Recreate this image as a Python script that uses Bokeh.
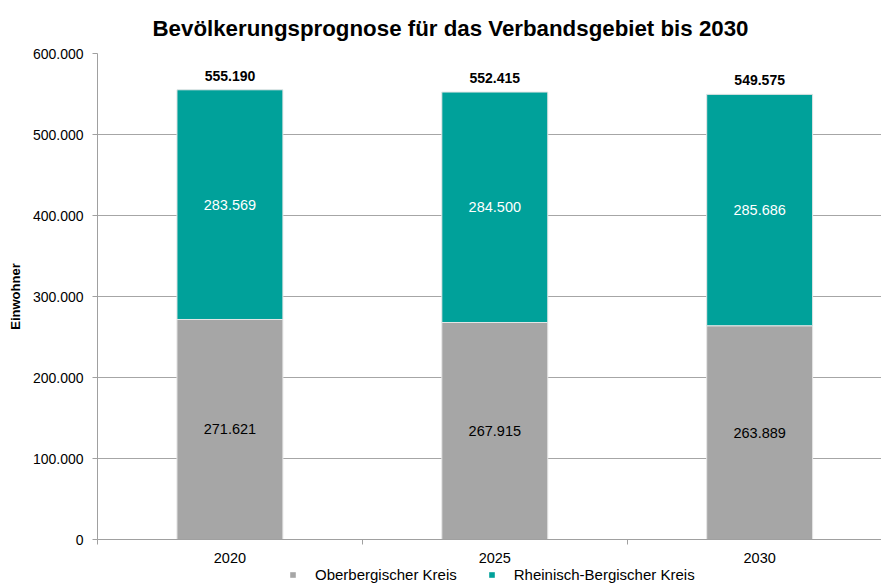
from bokeh.plotting import figure
from bokeh.layouts import column
from bokeh.models import ColumnDataSource, Range1d, FixedTicker, Legend, LegendItem, Title
from bokeh.core.properties import value
from bokeh.embed import file_html
from bokeh.resources import INLINE

years = ["2020", "2025", "2030"]
ober = [271621, 267915, 263889]
rhein = [283569, 284500, 285686]
series_names = ["Oberbergischer Kreis", "Rheinisch-Bergischer Kreis"]
y_ticks = [0, 100000, 200000, 300000, 400000, 500000, 600000]

GREY = "#A6A6A6"
TEAL = "#00A19A"
FONT = "Liberation Sans"
W = 881


def de(v):
    return f"{v:,}".replace(",", ".")


x = [i + 0.5 for i in range(len(years))]
totals = [a + b for a, b in zip(ober, rhein)]
src = ColumnDataSource(dict(
    x=x, ober=ober, rhein=rhein, total=totals,
    ober_mid=[a / 2 for a in ober],
    rhein_mid=[a + b / 2 for a, b in zip(ober, rhein)],
    ober_lbl=[de(v) for v in ober],
    rhein_lbl=[de(v) for v in rhein],
    total_lbl=[de(v) for v in totals],
))

p = figure(width=W, height=568, output_backend="svg", toolbar_location=None,
           x_range=Range1d(0, 2.96), y_range=Range1d(0, 600000),
           min_border_left=97, min_border_right=0, min_border_top=53, min_border_bottom=29)
p.title = Title(text="Bevölkerungsprognose für das Verbandsgebiet bis 2030", align="left",
                text_font=FONT, text_font_size="22.3px", text_font_style="bold",
                text_color="#000000", offset=55, standoff=25)
p.outline_line_color = None
p.background_fill_color = "white"
p.border_fill_color = "white"

r = p.vbar_stack(["ober", "rhein"], x="x", width=0.4, source=src,
                 color=[GREY, TEAL], line_color="#e6e6e6", line_width=1)

p.text(x="x", y="ober_mid", text="ober_lbl", source=src, text_align="center",
       text_baseline="middle", text_font=value(FONT), text_font_size="14.5px", text_color="#000000")
p.text(x="x", y="rhein_mid", text="rhein_lbl", source=src, text_align="center",
       text_baseline="middle", text_font=value(FONT), text_font_size="14.5px", text_color="#ffffff")
p.text(x="x", y="total", text="total_lbl", source=src, text_align="center",
       text_baseline="bottom", y_offset=-9, text_font=value(FONT), text_font_size="14px",
       text_font_style="bold", text_color="#000000")

# y axis
p.yaxis.ticker = FixedTicker(ticks=y_ticks)
p.yaxis.major_label_overrides = {t: de(t) for t in y_ticks}
p.yaxis.axis_label = "Einwohner"
p.yaxis.axis_label_text_font = FONT
p.yaxis.axis_label_text_font_size = "13px"
p.yaxis.axis_label_text_font_style = "bold"
p.yaxis.axis_label_text_color = "#000000"
p.yaxis.axis_label_standoff = 7
p.yaxis.major_label_text_font = FONT
p.yaxis.major_label_text_font_size = "14px"
p.yaxis.major_label_text_color = "#000000"
p.yaxis.axis_line_color = "#a0a0a0"
p.yaxis.major_tick_line_color = "#a0a0a0"
p.yaxis.major_tick_in = 0
p.yaxis.major_tick_out = 5
p.yaxis.minor_tick_line_color = None
p.yaxis.major_label_standoff = 9

# x axis
p.xaxis.ticker = FixedTicker(ticks=x, minor_ticks=list(range(len(years) + 1)))
p.xaxis.major_label_overrides = {xx: y for xx, y in zip(x, years)}
p.xaxis.major_tick_line_color = None
p.xaxis.minor_tick_line_color = "#a0a0a0"
p.xaxis.minor_tick_in = 0
p.xaxis.minor_tick_out = 5
p.xaxis.axis_line_color = "#a0a0a0"
p.xaxis.major_label_text_font = FONT
p.xaxis.major_label_text_font_size = "14.5px"
p.xaxis.major_label_text_color = "#000000"
p.xaxis.major_label_standoff = 7

p.xgrid.grid_line_color = None
p.ygrid.grid_line_color = "#a6a6a6"
p.ygrid.ticker = FixedTicker(ticks=y_ticks)

# legend strip: zero-height bars (outside the visible range) only supply the swatches
p2 = figure(width=W, height=15, output_backend="svg", toolbar_location=None,
            x_range=Range1d(0, 2.96), y_range=Range1d(1, 2),
            x_axis_type=None, y_axis_type=None,
            min_border_left=0, min_border_right=0, min_border_top=0, min_border_bottom=0)
p2.outline_line_color = None
p2.grid.grid_line_color = None
sw1 = p2.vbar(x="x", top=0, bottom=0, width=0.4, source=src, fill_color=GREY, line_color=None)
sw2 = p2.vbar(x="x", top=0, bottom=0, width=0.4, source=src, fill_color=TEAL, line_color=None)
legend = Legend(items=[LegendItem(label=series_names[0], renderers=[sw1]),
                       LegendItem(label=series_names[1], renderers=[sw2])],
                orientation="horizontal", location=(192, 0),
                label_text_font=FONT, label_text_font_size="15px", label_text_color="#000000",
                glyph_width=7, glyph_height=7, label_standoff=19, spacing=31,
                label_height=15, padding=0, margin=0, border_line_color=None,
                background_fill_alpha=0)
p2.add_layout(legend, "center")

layout = column(p, p2, spacing=0)
open("out.html", "w").write(file_html(layout, INLINE))
